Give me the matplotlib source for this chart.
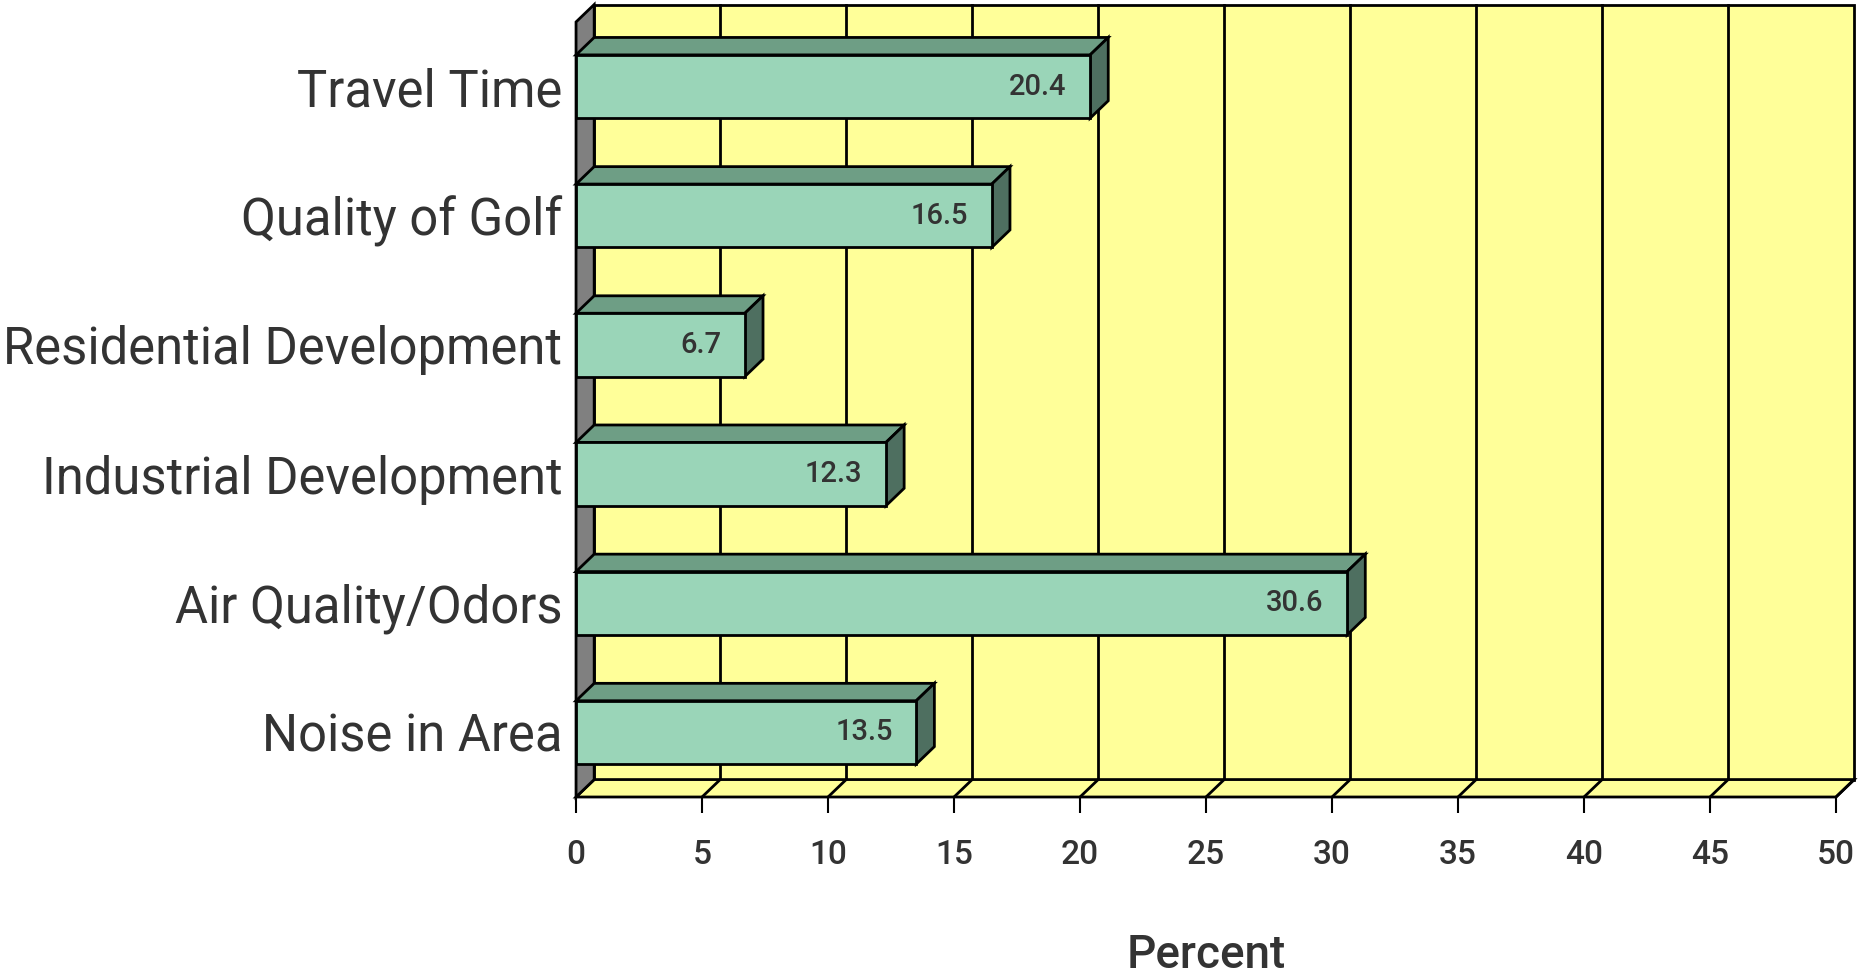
import matplotlib
matplotlib.use("Agg")
import matplotlib.pyplot as plt
from matplotlib.patches import Polygon

# chart data (top to bottom as shown)
categories = ["Travel Time", "Quality of Golf", "Residential Development",
              "Industrial Development", "Air Quality/Odors", "Noise in Area"]
values = [20.4, 16.5, 6.7, 12.3, 30.6, 13.5]
x_ticks = list(range(0, 51, 5))
x_label = "Percent"

# colours
wall_yellow = "#FFFF99"
wall_gray = "#808080"
bar_front = "#9AD5B8"
bar_top = "#6E9E85"
bar_side = "#4E6F60"
text_gray = "#333333"

plt.rcParams["font.family"] = ["Roboto", "DejaVu Sans"]

fig = plt.figure(figsize=(18.6, 9.76), dpi=100)
ax = fig.add_axes([0.3097, 0.1834, 0.6774, 0.7941])
ax.set_xlim(0, 50)
ax.set_ylim(0, len(categories))
ax.set_facecolor("none")
for s in ax.spines.values():
    s.set_visible(False)

# depth of the 3d effect, in data units
dx = 0.72
dy = 0.135
ymax = len(categories)
lw = 2.0

def poly(pts, fc, z):
    p = Polygon(pts, closed=True, facecolor=fc, edgecolor="black",
                linewidth=lw, clip_on=False, zorder=z, joinstyle="miter")
    ax.add_patch(p)

# walls and floor
poly([(dx, dy), (50 + dx, dy), (50 + dx, ymax + dy), (dx, ymax + dy)], wall_yellow, 1)
poly([(0, 0), (50, 0), (50 + dx, dy), (dx, dy)], wall_yellow, 2)
poly([(0, 0), (dx, dy), (dx, ymax + dy), (0, ymax)], wall_gray, 2)

# gridlines on back wall and floor
for t in x_ticks[1:-1]:
    ax.plot([t + dx, t + dx], [dy, ymax + dy], color="black", lw=lw,
            clip_on=False, zorder=1.5)
for t in x_ticks[1:]:
    ax.plot([t, t + dx], [0, dy], color="black", lw=lw, clip_on=False, zorder=2.5)

# bars
h = 0.49
for i, (cat, v) in enumerate(zip(categories, values)):
    c = ymax - 0.5 - i
    b, t = c - h / 2, c + h / 2
    poly([(0, b), (v, b), (v, t), (0, t)], bar_front, 5)
    poly([(0, t), (v, t), (v + dx, t + dy), (dx, t + dy)], bar_top, 4)
    poly([(v, b), (v + dx, b + dy), (v + dx, t + dy), (v, t)], bar_side, 4)
    ax.annotate(f"{v:.1f}", xy=(v, c), xytext=(-17, 0), textcoords="offset points",
                ha="right", va="center", fontsize=21, fontweight="medium",
                color=text_gray, zorder=6)

ax.set_yticks([ymax - 0.5 - i for i in range(len(categories))])
ax.set_yticklabels(categories, fontsize=36.5, color=text_gray)
ax.tick_params(axis="y", length=0, pad=10)

ax.set_xticks(x_ticks)
ax.set_xticklabels([str(t) for t in x_ticks], fontsize=24, fontweight="medium",
                   color=text_gray)
ax.tick_params(axis="x", length=11.5, width=1.5, pad=19, color="black")

ax.set_xlabel(x_label, fontsize=33, fontweight="medium", color=text_gray, va="center")
ax.xaxis.set_label_coords(0.5, -0.204)

fig.savefig("out.png", dpi=100)
